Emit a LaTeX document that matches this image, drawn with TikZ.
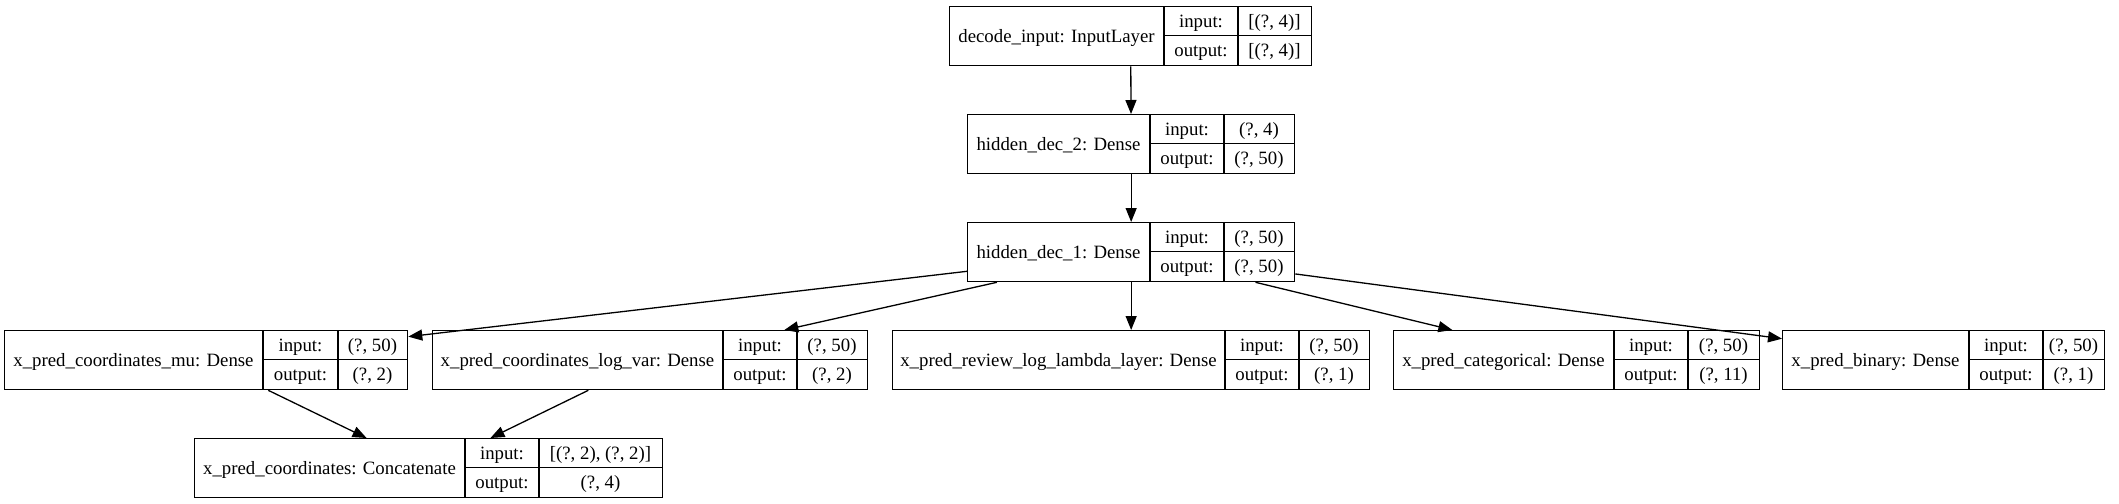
\documentclass[tikz,border=0pt]{standalone}
\usepackage{fontspec}
\setmainfont{Liberation Serif}
\usetikzlibrary{arrows.meta}

\tikzset{
  rec/.style={draw, line width=0.65pt, inner sep=0pt, minimum height=29.5pt},
  txt/.style={inner sep=0pt, text height=7.5pt, text depth=0.9pt, font=\fontsize{9.4}{11}\selectfont},
  flow/.style={-{Triangle[length=7pt, width=5.5pt]}, line width=0.65pt},
}

% one layer box: name, left, divider 1, divider 2, right, top, label, input, output
\newcommand{\layer}[9]{%
  \node[rec, anchor=north west, minimum width={(#5-#2)*0.5pt}] (#1) at (#2,#6) {};
  \node[txt] (#1-lab) at ({(#2+#3)/2},{#6+29.5}) {#7};
  \node[txt] (#1-ik) at ({(#3+#4)/2},{#6+14.75}) {input:};
  \node[txt] (#1-ok) at ({(#3+#4)/2},{#6+44.25}) {output:};
  \node[txt] (#1-iv) at ({(#4+#5)/2},{#6+14.75}) {#8};
  \node[txt] (#1-ov) at ({(#4+#5)/2},{#6+44.25}) {#9};
  \draw[line width=0.65pt] (#3,#6) -- (#3,{#6+59}) (#4,#6) -- (#4,{#6+59})
    (#3,{#6+29.5}) -- (#5,{#6+29.5});
}

\begin{document}
\begin{tikzpicture}[x=0.5pt, y=-0.5pt]
  \useasboundingbox (0,0) rectangle (2119,503);

  % layers
  \layer{dec}{949}{1164}{1238}{1311}{6}{decode\_input: InputLayer}{[(?, 4)]}{[(?, 4)]}
  \layer{hdtwo}{967}{1150}{1224}{1294}{114}{hidden\_dec\_2: Dense}{(?, 4)}{(?, 50)}
  \layer{hdone}{967}{1150}{1224}{1294}{222}{hidden\_dec\_1: Dense}{(?, 50)}{(?, 50)}
  \layer{mu}{4}{263}{338}{407}{330}{x\_pred\_coordinates\_mu: Dense}{(?, 50)}{(?, 2)}
  \layer{logvar}{432}{723}{797}{867}{330}{x\_pred\_coordinates\_log\_var: Dense}{(?, 50)}{(?, 2)}
  \layer{review}{892}{1225}{1299}{1369}{330}{x\_pred\_review\_log\_lambda\_layer: Dense}{(?, 50)}{(?, 1)}
  \layer{categ}{1393}{1614}{1688}{1759}{330}{x\_pred\_categorical: Dense}{(?, 50)}{(?, 11)}
  \layer{binary}{1782}{1969}{2043}{2104}{330}{x\_pred\_binary: Dense}{(?, 50)}{(?, 1)}
  \layer{concat}{194}{465}{539}{662}{438}{x\_pred\_coordinates: Concatenate}{[(?, 2), (?, 2)]}{(?, 4)}

  % connections
  \draw[flow] (dec) -- (hdtwo);
  \draw[flow] (hdtwo) -- (hdone);
  \foreach \t in {mu, logvar, review, categ, binary}
    \draw[flow] (hdone) -- (\t);
  \draw[flow] (mu) -- (concat);
  \draw[flow] (logvar) -- (concat);
\end{tikzpicture}
\end{document}
